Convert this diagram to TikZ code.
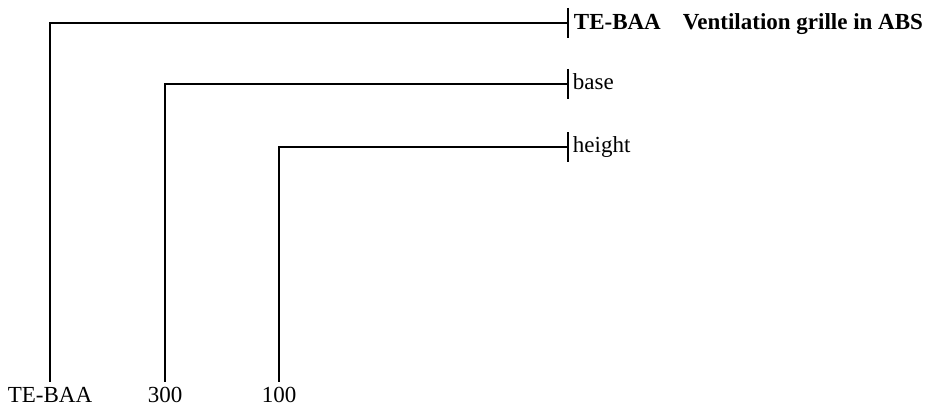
\documentclass[tikz,border=0pt]{standalone}
\usepackage{fontspec}
\setmainfont{Liberation Serif}
\usetikzlibrary{positioning,calc}
\tikzset{lbl/.style={inner sep=0pt, font=\fontsize{23}{26}\selectfont},
         bar/.style={line width=1.8pt}}

\begin{document}
\begin{tikzpicture}[x=1pt, y=-1pt, bar]
        \useasboundingbox (0,0) rectangle (944,409);
        % labels at the feet
        \node[lbl, anchor=base] (foot1) at (50,402) {TE-BAA};
        \node[lbl, anchor=base] (foot2) at (165,402) {300};
        \node[lbl, anchor=base] (foot3) at (279,402) {100};
        % ends of the brackets
        \coordinate (tip1) at (568,23);
        \coordinate (tip2) at (568,84);
        \coordinate (tip3) at (568,147);
        \node[lbl, anchor=base west, font=\fontsize{23}{26}\selectfont\bfseries] (top1) at (573,30) {TE-BAA};
        \node[lbl, anchor=base west, font=\fontsize{23}{26}\selectfont\bfseries] (name) at (682,30) {Ventilation grille in ABS};
        \node[lbl, anchor=base west] (top2) at (572,90) {base};
        \node[lbl, anchor=base west] (top3) at (572,152) {height};

        \foreach \i in {1,2,3}{
          \draw ($(foot\i.north)+(0,-4)$) |- (tip\i); % bracket
          \draw ($(tip\i)+(0,-15)$) -- ($(tip\i)+(0,15)$); % tick
        }
      \end{tikzpicture}
\end{document}
